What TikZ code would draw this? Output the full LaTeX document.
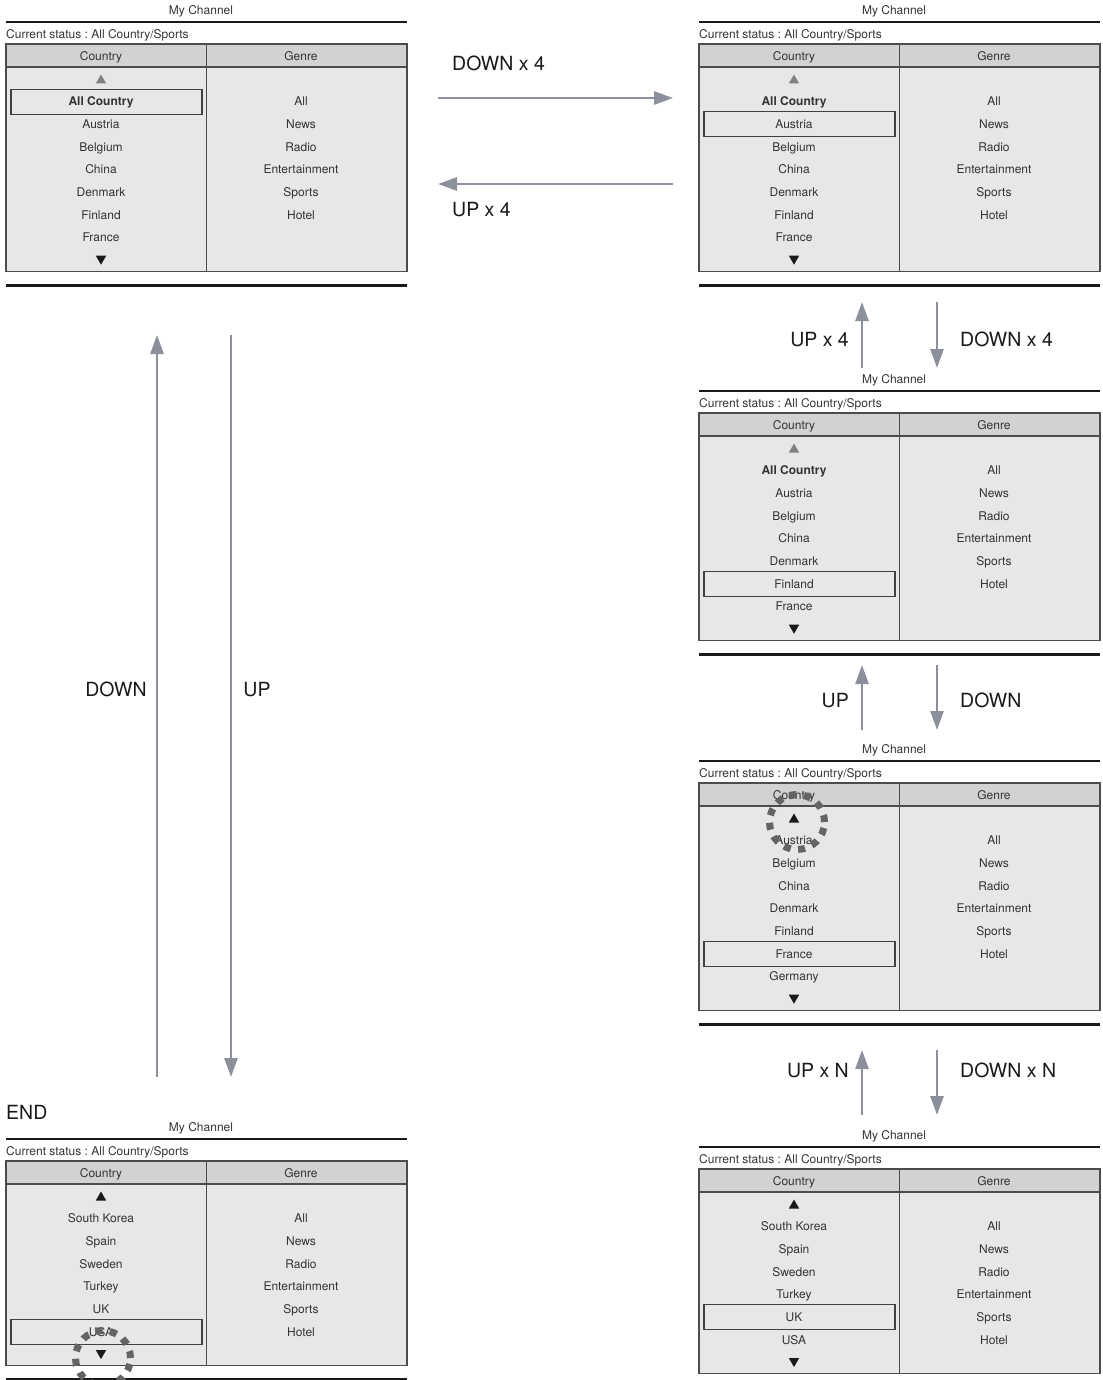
\documentclass[tikz,border=0pt]{standalone}
\usepackage{fontspec}
\setmainfont{TeX Gyre Heros}
\frenchspacing
\usetikzlibrary{arrows.meta, shapes.geometric}
\definecolor{hdrgray}{RGB}{209,210,212}
\definecolor{bodygray}{RGB}{230,231,232}
\definecolor{navgray}{RGB}{139,144,156}
\definecolor{inkgray}{RGB}{51,51,51}
\definecolor{ringgray}{RGB}{100,100,102}

% one "My Channel" screen: name, origin, colour of the up tip, countries, picked row, number of countries
\newcommand{\chpanel}[6]{%
\begin{scope}[shift={#2}]
  \pgfmathsetmacro\tblbot{79+22.65*(#6+1)+11}
  \pgfmathsetmacro\rulebot{\tblbot+14}
  \node[title] (#1-title) at (201,10) {My Channel};
  \draw[rule] (6,22) -- (407,22);
  \node[status] (#1-status) at (6,34) {Current status : All Country/Sports};
  \fill[bodygray] (6,67) rectangle (407,\tblbot);
  \fill[hdrgray] (6,44) rectangle (407,67);
  \draw[frame] (6,44) rectangle (407,\tblbot);
  \draw[frame] (6,67) -- (407,67);
  \draw[frame] (206.5,44) -- (206.5,\tblbot);
  \node[cell] (#1-hc) at (101,56) {Country};
  \node[cell] (#1-hg) at (301,56) {Genre};
  \node[tipup, fill=#3] (#1-up) at (101,79) {};
  \foreach \c [count=\i] in {#4}
    \node[cell] (#1-c\i) at (101,79+22.65*\i) {\c};
  \node[tipdn] (#1-dn) at (101,{79+22.65*(#6+1)}) {};
  \foreach \g [count=\i] in {All,News,Radio,Entertainment,Sports,Hotel}
    \node[cell] (#1-g\i) at (301,79+22.65*\i) {\g};
  \node[pick] (#1-pick) at (106.5,79+22.65*#5) {};
  \draw[rule] (6,\rulebot) -- (407,\rulebot);
\end{scope}}

\begin{document}
\begin{tikzpicture}[
    x=1pt, y=-1pt,
    title/.style   ={inner sep=0pt, text=inkgray, font=\fontsize{12}{14}\selectfont, text height=8.6pt, text depth=0pt},
    status/.style  ={anchor=west, inner sep=0pt, text=inkgray, font=\fontsize{12}{14}\selectfont, text height=8.6pt, text depth=0pt},
    cell/.style    ={inner sep=0pt, text=inkgray, font=\fontsize{12}{14}\selectfont, text height=8.6pt, text depth=0pt},
    rule/.style    ={line width=2.6pt, black!90},
    frame/.style   ={line width=1.2pt, black!70},
    pick/.style    ={rectangle, draw=black!75, line width=1.1pt, minimum width=191pt, minimum height=25pt, inner sep=0pt},
    tipup/.style   ={regular polygon, regular polygon sides=3, inner sep=0pt, minimum size=12pt, yshift=-1.5pt},
    tipdn/.style   ={regular polygon, regular polygon sides=3, shape border rotate=180, fill=black!90, inner sep=0pt, minimum size=12pt, yshift=1.5pt},
    ring/.style    ={circle, draw=ringgray, line width=7pt, dash pattern=on 7pt off 7.5pt, minimum size=55pt, inner sep=0pt},
    nav/.style     ={-{Triangle[length=19pt, width=13pt]}, line width=2.6pt, navgray},
    navlabel/.style={inner sep=0pt, text=black!90, font=\fontsize{19.5}{22}\selectfont, text height=14pt, text depth=0pt}
]
\useasboundingbox (0,0) rectangle (1102,1380);

% --- screens ---
\chpanel{start}{(0,0)}{black!50}{{\textbf{All Country}},Austria,Belgium,China,Denmark,Finland,France}{1}{7}
\chpanel{four}{(693,0)}{black!50}{{\textbf{All Country}},Austria,Belgium,China,Denmark,Finland,France}{2}{7}
\chpanel{eight}{(693,369)}{black!50}{{\textbf{All Country}},Austria,Belgium,China,Denmark,Finland,France}{6}{7}
\chpanel{nine}{(693,739)}{black!90}{Austria,Belgium,China,Denmark,Finland,France,Germany}{6}{7}
\chpanel{nth}{(693,1125)}{black!90}{South Korea,Spain,Sweden,Turkey,UK,USA}{5}{6}
\chpanel{last}{(0,1117)}{black!90}{South Korea,Spain,Sweden,Turkey,UK,USA}{6}{6}

% --- scrolling marks ---
\node[ring] (ring-top) at (797,822) {};
\node[ring] (ring-end) at (103,1358) {};

% --- top row: DOWN x 4 / UP x 4 ---
\coordinate (hd-a) at (438,98);  \coordinate (hd-b) at (673,98);
\coordinate (hu-a) at (673,184); \coordinate (hu-b) at (438,184);
\draw[nav] (hd-a) -- (hd-b);
\draw[nav] (hu-a) -- (hu-b);
\node[navlabel, anchor=west] (hd-lbl) at (452,64) {DOWN x 4};
\node[navlabel, anchor=west] (hu-lbl) at (452,210) {UP x 4};

% --- left column: wrap round ---
\coordinate (lu-a) at (157,1077); \coordinate (lu-b) at (157,335);
\coordinate (ld-a) at (231,335);  \coordinate (ld-b) at (231,1077);
\draw[nav] (lu-a) -- (lu-b);
\draw[nav] (ld-a) -- (ld-b);
\node[navlabel] (lu-lbl) at (116,689) {DOWN};
\node[navlabel] (ld-lbl) at (257,689) {UP};
\node[navlabel, anchor=west] (end-lbl) at (6,1112) {END};

% --- right column ---
\foreach \top/\bot/\mid/\up/\dn [count=\k] in {302/368/339/UP x 4/DOWN x 4, 665/730/700/UP/DOWN, 1050/1115/1070/UP x N/DOWN x N} {
  \coordinate (ru\k-a) at (862,\bot); \coordinate (ru\k-b) at (862,\top);
  \coordinate (rd\k-a) at (937,\top); \coordinate (rd\k-b) at (937,\bot);
  \draw[nav] (ru\k-a) -- (ru\k-b);
  \draw[nav] (rd\k-a) -- (rd\k-b);
  \node[navlabel, anchor=east] (ru\k-lbl) at (849,\mid) {\up};
  \node[navlabel, anchor=west] (rd\k-lbl) at (960,\mid) {\dn};
}
\end{tikzpicture}
\end{document}
